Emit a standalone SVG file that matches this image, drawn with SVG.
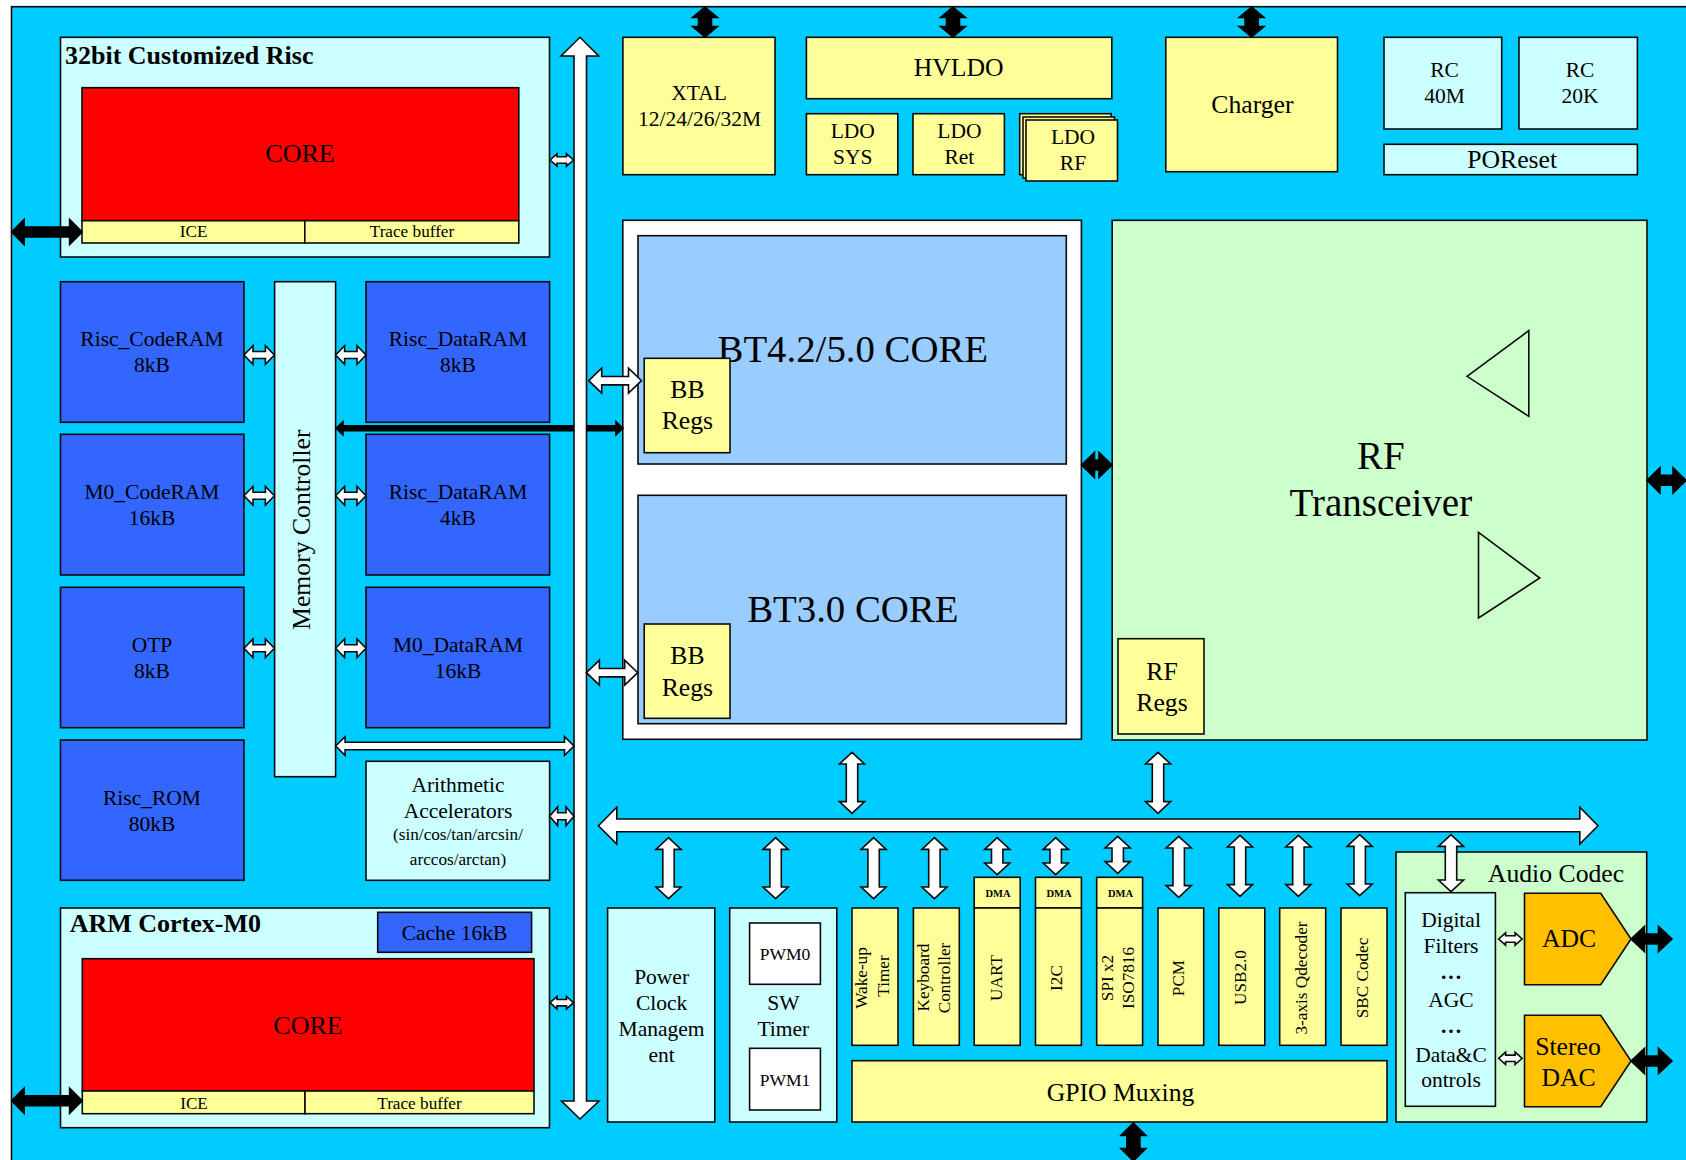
<svg xmlns="http://www.w3.org/2000/svg" xmlns:xlink="http://www.w3.org/1999/xlink" width="1686" height="1160" viewBox="0 0 1686 1160">
<style>
text{font-family:"Liberation Serif","Times New Roman",serif;fill:#000;text-anchor:middle}
rect,polygon{stroke:#0a0a0a;stroke-width:1.6}
.bg{fill:#00CCFF}.cy{fill:#CCFFFF}.ye{fill:#FFFF99}.bl{fill:#3366FF}.re{fill:#FF0000}.lb{fill:#99CCFF}.gr{fill:#CCFFCC}.wh{fill:#FFFFFF}.or{fill:#FFC000}
.tri{fill:none}
.w{fill:#fff;stroke:#0a0a0a;stroke-width:1.6}
.k{fill:#000;stroke:#000;stroke-width:1.6}
.f17{font-size:17.2px}.f21{font-size:21.5px}.f25{font-size:25.7px}.f38{font-size:38.8px}
.tb{font-size:26px;font-weight:bold;text-anchor:start}
.dma{font-size:10.5px;font-weight:bold}
.dots{font-size:21.5px;font-weight:bold;letter-spacing:2px}
</style>
<defs>
<path id="sh" d="M0 0l7 -6.2v3h9.5v-3l7 6.2l-7 6.2v-3h-9.5v3z"/>
<path id="mh" d="M0 0l9 -9.3v5.8h12.4v-5.8l9 9.3l-9 9.3v-5.8h-12.4v5.8z"/>
<path id="vl" d="M0 0l12.6 11.7h-6.9v37.6h6.9l-12.6 11.7l-12.6 -11.7h6.9v-37.6h-6.9z"/>
<path id="vs" d="M0 0l12.6 11.7h-6.9v13.6h6.9l-12.6 11.7l-12.6 -11.7h6.9v-13.6h-6.9z"/>
<path id="kv" d="M0 0l12.5 10.5h-6v9h6l-12.5 10.5l-12.5 -10.5h6v-9h-6z"/>
<path id="kh" d="M0 0l13.5 -12.7v7.7h14v-7.7l13.5 12.7l-13.5 12.7v-7.7h-14v7.7z"/>
<path id="ko" d="M0 0l12.6 -12.6v7.6h45.5v-7.6l12.6 12.6l-12.6 12.6v-7.6h-45.5v7.6z"/>
</defs>

<rect id="background" class="bg" x="11.5" y="6.7" width="1720" height="1200"/>

<g id="risc">
<rect class="cy" x="60.5" y="37.3" width="489" height="219.7"/>
<text class="tb" x="65" y="64">32bit Customized Risc</text>
<rect class="re" x="82" y="87.7" width="436.8" height="133"/>
<text x="300" y="162" style="font-size:26px">CORE</text>
<rect class="ye" x="82" y="220.7" width="222.8" height="22.3"/>
<text class="f17" x="193.7" y="237.3">ICE</text>
<rect class="ye" x="304.8" y="220.7" width="214" height="22.3"/>
<text class="f17" x="412" y="237.3">Trace buffer</text>
</g>

<g id="risc-coderam"><rect class="bl" x="60.5" y="281.7" width="183.5" height="140.6"/><text class="f21" x="152" y="346">Risc_CodeRAM</text><text class="f21" x="152" y="372">8kB</text></g>
<g id="m0-coderam"><rect class="bl" x="60.5" y="434.3" width="183.5" height="140.7"/><text class="f21" x="152" y="498.7">M0_CodeRAM</text><text class="f21" x="152" y="524.7">16kB</text></g>
<g id="otp"><rect class="bl" x="60.5" y="587.3" width="183.5" height="140.4"/><text class="f21" x="152" y="651.7">OTP</text><text class="f21" x="152" y="677.7">8kB</text></g>
<g id="risc-rom"><rect class="bl" x="60.5" y="740" width="183.5" height="140.3"/><text class="f21" x="152" y="805">Risc_ROM</text><text class="f21" x="152" y="831">80kB</text></g>
<g id="memory-controller"><rect class="cy" x="274.6" y="281.7" width="61" height="495"/><text class="f25" transform="translate(310 529.7) rotate(-90)">Memory Controller</text></g>
<g id="risc-dataram-8"><rect class="bl" x="366" y="281.7" width="183.6" height="140.6"/><text class="f21" x="458" y="346">Risc_DataRAM</text><text class="f21" x="458" y="372">8kB</text></g>
<g id="risc-dataram-4"><rect class="bl" x="366" y="434.3" width="183.6" height="140.7"/><text class="f21" x="458" y="498.7">Risc_DataRAM</text><text class="f21" x="458" y="524.7">4kB</text></g>
<g id="m0-dataram"><rect class="bl" x="366" y="587.3" width="183.6" height="140.4"/><text class="f21" x="458" y="651.7">M0_DataRAM</text><text class="f21" x="458" y="677.7">16kB</text></g>
<g id="arithmetic"><rect class="cy" x="366" y="761.3" width="183.6" height="119"/><text class="f21" x="458" y="791.7">Arithmetic</text><text class="f21" x="458" y="817.7">Accelerators</text><text class="f17" x="458" y="840">(sin/cos/tan/arcsin/</text><text class="f17" x="458" y="865">arccos/arctan)</text></g>

<g id="cortex-m0">
<rect class="cy" x="60.5" y="908" width="489" height="219.7"/>
<text class="tb" x="69.7" y="931.7">ARM Cortex-M0</text>
<rect class="bl" x="377.7" y="912.3" width="153.9" height="40"/>
<text class="f21" x="454.5" y="940">Cache 16kB</text>
<rect class="re" x="82.3" y="958.7" width="451.7" height="132.3"/>
<text x="308" y="1033.5" style="font-size:26px">CORE</text>
<rect class="ye" x="82.3" y="1091" width="222.7" height="22.7"/>
<text class="f17" x="194" y="1109">ICE</text>
<rect class="ye" x="305" y="1091" width="229" height="22.7"/>
<text class="f17" x="419.5" y="1109">Trace buffer</text>
</g>

<g id="xtal"><rect class="ye" x="622.9" y="37.3" width="152.1" height="137.4"/><text class="f21" x="699" y="100">XTAL</text><text class="f21" x="699.5" y="126">12/24/26/32M</text></g>
<g id="hvldo"><rect class="ye" x="806.4" y="37.3" width="305.4" height="61.4"/><text class="f25" x="958.7" y="76">HVLDO</text></g>
<g id="ldo-sys"><rect class="ye" x="806.4" y="113.7" width="91.4" height="61"/><text class="f21" x="852.8" y="138">LDO</text><text class="f21" x="852.8" y="164">SYS</text></g>
<g id="ldo-ret"><rect class="ye" x="913" y="113.7" width="91.4" height="61"/><text class="f21" x="959.4" y="138">LDO</text><text class="f21" x="959.4" y="164">Ret</text></g>
<g id="ldo-rf"><rect class="ye" x="1019.7" y="113.7" width="91.5" height="61"/><rect class="ye" x="1023" y="117" width="91.5" height="61"/><rect class="ye" x="1026" y="120" width="91.5" height="61"/><text class="f21" x="1073" y="144">LDO</text><text class="f21" x="1073" y="170">RF</text></g>
<g id="charger"><rect class="ye" x="1165.8" y="37.3" width="171.7" height="134.4"/><text class="f25" x="1252.4" y="112.7">Charger</text></g>
<g id="rc40m"><rect class="cy" x="1384" y="37.3" width="117.7" height="91.7"/><text class="f21" x="1444.5" y="77.3">RC</text><text class="f21" x="1444.5" y="103">40M</text></g>
<g id="rc20k"><rect class="cy" x="1519" y="37.3" width="118.4" height="91.7"/><text class="f21" x="1580" y="77.3">RC</text><text class="f21" x="1580" y="103">20K</text></g>
<g id="poreset"><rect class="cy" x="1384" y="144.3" width="253.4" height="30.4"/><text class="f25" x="1512.2" y="167.7">POReset</text></g>

<g id="bt-cores">
<rect class="wh" x="622.8" y="220.3" width="458.6" height="519"/>
<g id="bt42"><rect class="lb" x="638" y="235.7" width="428.3" height="228.3"/><text class="f38" x="852.8" y="361.7">BT4.2/5.0 CORE</text>
<rect class="ye" x="644.2" y="358.3" width="85.8" height="94.4"/><text class="f25" x="687.4" y="397.7">BB</text><text class="f25" x="687.4" y="429">Regs</text></g>
<g id="bt30"><rect class="lb" x="638" y="495.3" width="428.3" height="228.4"/><text class="f38" x="852.8" y="621.7">BT3.0 CORE</text>
<rect class="ye" x="644.2" y="624" width="85.8" height="94.3"/><text class="f25" x="687.4" y="663.7">BB</text><text class="f25" x="687.4" y="696">Regs</text></g>
</g>

<g id="rf-transceiver">
<rect class="gr" x="1112.2" y="220.3" width="534.8" height="519.7"/>
<polygon class="tri" points="1467,376.3 1528.8,330.7 1528.8,416.3"/>
<polygon class="tri" points="1478.5,532.3 1539.8,578 1478.5,618"/>
<text class="f38" x="1380.8" y="469" style="font-size:39px">RF</text>
<text class="f38" x="1380.8" y="516" style="font-size:39px">Transceiver</text>
<rect class="ye" x="1118" y="638.7" width="86" height="95.3"/>
<text class="f25" x="1162" y="680">RF</text><text class="f25" x="1162" y="711">Regs</text>
</g>

<g id="power-clock"><rect class="cy" x="607.6" y="908" width="107.2" height="214"/><text class="f21" x="661.6" y="984">Power</text><text class="f21" x="661.6" y="1010">Clock</text><text class="f21" x="661.6" y="1036">Managem</text><text class="f21" x="661.6" y="1062">ent</text></g>
<g id="sw-timer"><rect class="cy" x="729.7" y="908" width="107.1" height="214"/>
<rect class="wh" x="749.6" y="923" width="70.8" height="61.3"/><text x="785" y="960" style="font-size:17.5px">PWM0</text>
<text class="f21" x="783.3" y="1010">SW</text><text class="f21" x="783.3" y="1036">Timer</text>
<rect class="wh" x="749.6" y="1048.3" width="70.8" height="61.7"/><text x="785" y="1086" style="font-size:17.5px">PWM1</text></g>
<g id="wakeup"><rect class="ye" x="852" y="908" width="46" height="137.3"/><text class="f17" transform="translate(866.8 978) rotate(-90)">Wake-up</text><text class="f17" transform="translate(889 976) rotate(-90)">Timer</text></g>
<g id="keyboard"><rect class="ye" x="913.4" y="908" width="45.9" height="137.3"/><text class="f17" transform="translate(929.3 977.5) rotate(-90)">Keyboard</text><text class="f17" transform="translate(950 978) rotate(-90)">Controller</text></g>
<g id="uart"><rect class="ye" x="974.2" y="877.3" width="46" height="30.7"/><text class="dma" x="998" y="897.3">DMA</text><rect class="ye" x="974.2" y="908" width="46" height="137.3"/><text class="f17" transform="translate(1001.5 978) rotate(-90)">UART</text></g>
<g id="i2c"><rect class="ye" x="1035.5" y="877.3" width="45.9" height="30.7"/><text class="dma" x="1059" y="897.3">DMA</text><rect class="ye" x="1035.5" y="908" width="45.9" height="137.3"/><text class="f17" transform="translate(1062.3 978) rotate(-90)">I2C</text></g>
<g id="spi"><rect class="ye" x="1096.7" y="877.3" width="45.9" height="30.7"/><text class="dma" x="1120.5" y="897.3">DMA</text><rect class="ye" x="1096.7" y="908" width="45.9" height="137.3"/><text class="f17" transform="translate(1113 978) rotate(-90)">SPI x2</text><text class="f17" transform="translate(1133.8 978) rotate(-90)">ISO7816</text></g>
<g id="pcm"><rect class="ye" x="1158" y="908" width="45.7" height="137.3"/><text class="f17" transform="translate(1184.3 978) rotate(-90)">PCM</text></g>
<g id="usb"><rect class="ye" x="1218.8" y="908" width="46" height="137.3"/><text class="f17" transform="translate(1246 977.5) rotate(-90)">USB2.0</text></g>
<g id="qdecoder"><rect class="ye" x="1279.7" y="908" width="46" height="137.3"/><text class="f17" transform="translate(1306.8 978) rotate(-90)">3-axis Qdecoder</text></g>
<g id="sbc"><rect class="ye" x="1341" y="908" width="46" height="137.3"/><text class="f17" transform="translate(1367.8 978) rotate(-90)">SBC Codec</text></g>
<g id="gpio"><rect class="ye" x="852" y="1060.7" width="535" height="61.3"/><text class="f25" x="1120.5" y="1100.7">GPIO Muxing</text></g>

<g id="audio-codec">
<rect class="gr" x="1396" y="852" width="250.7" height="270"/>
<text class="f25" x="1556" y="881.7">Audio Codec</text>
<rect class="cy" x="1405.3" y="892.7" width="90.1" height="213.6"/>
<text class="f21" x="1451" y="927">Digital</text><text class="f21" x="1451" y="953.3">Filters</text><text class="dots" x="1452" y="979">...</text><text class="f21" x="1451" y="1006.7">AGC</text><text class="dots" x="1452" y="1033">...</text><text class="f21" x="1451" y="1061.7">Data&amp;C</text><text class="f21" x="1451" y="1087.3">ontrols</text>
<polygon class="or" points="1524.5,893.3 1600.7,893.3 1631,939 1600.7,984.7 1524.5,984.7"/>
<text class="f25" x="1569" y="947.3">ADC</text>
<polygon class="or" points="1524.5,1015.3 1600.7,1015.3 1631,1061 1600.7,1106.7 1524.5,1106.7"/>
<text class="f25" x="1568" y="1055">Stereo</text><text class="f25" x="1568.5" y="1085.7">DAC</text>
</g>

<g id="connectors">
<use xlink:href="#ko" class="k" x="11.5" y="232"/>
<use xlink:href="#ko" class="k" x="11.5" y="1100.7"/>
<use xlink:href="#kv" class="k" x="705" y="7"/>
<use xlink:href="#kv" class="k" x="953" y="7"/>
<use xlink:href="#kv" class="k" x="1251.6" y="7"/>
<path class="k" d="M1133.4 1123l12.5 12.5h-6v13h6l-12.5 12.5l-12.5 -12.5h6v-13h-6z"/>
<path class="k" d="M336 428.3l7 -6.7v4.2h273v-4.2l7 6.7l-7 6.7v-4.2h-273v4.2z"/>
<path class="k" d="M1081.5 465l13 -12.7v7.7h4.5v-7.7l13 12.7l-13 12.7v-7.7h-4.5v7.7z"/>
<path class="k" d="M1647 480.3l13 -12.7v7.7h13v-7.7l13 12.7l-13 12.7v-7.7h-13v7.7z"/>
<use xlink:href="#kh" class="k" x="1631" y="939"/>
<use xlink:href="#kh" class="k" x="1631" y="1061"/>

<path id="mem-bus" class="w" d="M561 56l19 -18.7l18.7 18.7h-12.2v1045h12.5l-19 18l-18.5 -18h12.5v-1045z"/>
<path id="periph-bus" class="w" d="M598.4 825.7l18.4 -18.4v11.7h963v-11.7l18.2 18.4l-18.2 18.3v-12.3h-963v12.3z"/>

<use xlink:href="#sh" class="w" x="550" y="160"/>
<use xlink:href="#sh" class="w" x="550" y="1002.7"/>
<use xlink:href="#sh" class="w" x="1498.6" y="939"/>
<use xlink:href="#sh" class="w" x="1498.6" y="1058.3"/>
<use xlink:href="#mh" class="w" x="244" y="355"/>
<use xlink:href="#mh" class="w" x="335.6" y="355"/>
<use xlink:href="#mh" class="w" x="244" y="495.7"/>
<use xlink:href="#mh" class="w" x="335.6" y="495.7"/>
<use xlink:href="#mh" class="w" x="244" y="648.3"/>
<use xlink:href="#mh" class="w" x="335.6" y="648.3"/>
<path class="w" d="M549.6 816.3l8 -9.3v5.8h8.4v-5.8l8 9.3l-8 9.3v-5.8h-8.4v5.8z"/>
<path class="w" d="M335.6 746l9.5 -9.3v5.6h219.4v-5.6l9.5 9.3l-9.5 9.3v-5.6h-219.4v5.6z"/>
<path class="w" d="M588.7 380.7l13 -12.5v8.3h26.8v-8.3l13 12.5l-13 12.5v-8.3h-26.8v8.3z"/>
<path class="w" d="M586.4 672.7l13 -12.5v8.3h25.3v-8.3l13 12.5l-13 12.5v-8.3h-25.3v8.3z"/>
<use xlink:href="#vl" class="w" x="852" y="752.3"/>
<use xlink:href="#vl" class="w" x="1158" y="752.3"/>
<use xlink:href="#vl" class="w" x="668.5" y="837.7"/>
<use xlink:href="#vl" class="w" x="775.6" y="837.7"/>
<use xlink:href="#vl" class="w" x="873.6" y="837.7"/>
<use xlink:href="#vl" class="w" x="934.4" y="837.7"/>
<use xlink:href="#vl" class="w" x="1178.7" y="836.3"/>
<use xlink:href="#vl" class="w" x="1240" y="835.3"/>
<use xlink:href="#vl" class="w" x="1298.4" y="835.3"/>
<use xlink:href="#vl" class="w" x="1359.7" y="834.7"/>
<path class="w" d="M1451 834.7l12.6 11.7h-6.9v33.6h6.9l-12.6 11.7l-12.6 -11.7h6.9v-33.6h-6.9z"/>
<use xlink:href="#vs" class="w" x="997.2" y="837.7"/>
<use xlink:href="#vs" class="w" x="1055.7" y="837.7"/>
<use xlink:href="#vs" class="w" x="1117.7" y="836.3"/>
</g>
</svg>
